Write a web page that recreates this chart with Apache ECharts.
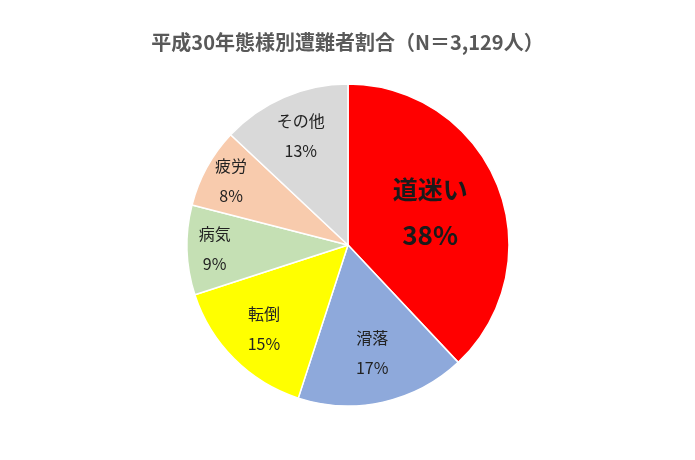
<!DOCTYPE html>
<html><head><meta charset="utf-8">
<script src="https://cdn.jsdelivr.net/npm/echarts@6/dist/echarts.min.js"></script>
<style>html,body{margin:0;padding:0;background:#fff}#c{width:695px;height:460px}</style>
</head><body><div id="c"></div>
<script>
const titleText = '平成30年態様別遭難者割合（N＝3,129人）';
const categories = ['道迷い', '滑落', '転倒', '病気', '疲労', 'その他'];
const values = [38, 17, 15, 9, 8, 13];
const colors = ['#FF0000', '#8EA9DB', '#FFFF00', '#C5E0B4', '#F8CBAD', '#D9D9D9'];
// label distance from centre as a fraction of radius (Excel best-fit look)
const labelRadiusFrac = [0.53, 0.67, 0.72, 0.81, 0.81, 0.72];

const R = 161;
const total = values.reduce((a, b) => a + b, 0);
let acc = 0;
const data = categories.map((name, i) => {
  const mid = (acc + values[i] / 2) / total * 2 * Math.PI;
  acc += values[i];
  const d = (labelRadiusFrac[i] - 0.5) * R;
  const big = i === 0;
  return {
    name: name,
    value: values[i],
    itemStyle: { color: colors[i] },
    label: {
      offset: [d * Math.sin(mid), -d * Math.cos(mid)],
      formatter: big ? '{bn|{b}}\n{bp|{d}%}' : '{n|{b}}\n{p|{d}%}'
    }
  };
});

const chart = echarts.init(document.getElementById('c'));
chart.setOption({
  backgroundColor: '#ffffff',
  animation: false,
  title: {
    text: titleText,
    left: 'center',
    top: 27,
    textStyle: { fontFamily: 'Noto Sans CJK JP', fontSize: 20, fontWeight: 'bold', color: '#595959' }
  },
  series: [{
    type: 'pie',
    center: [348, 245],
    radius: [0, R],
    startAngle: 90,
    clockwise: true,
    avoidLabelOverlap: false,
    itemStyle: { borderColor: '#ffffff', borderWidth: 1.5 },
    label: {
      show: true,
      position: 'inside',
      fontFamily: 'Noto Sans CJK JP',
      color: '#262626',
      rich: {
        n: { fontFamily: 'Noto Sans CJK JP', fontSize: 16, color: '#222222', lineHeight: 30, align: 'center' },
        p: { fontFamily: 'Noto Sans CJK JP', fontSize: 16, color: '#222222', lineHeight: 30, align: 'center' },
        bn: { fontFamily: 'Noto Sans CJK JP', fontSize: 25, fontWeight: 'bold', color: '#1a1a1a', lineHeight: 46, align: 'center' },
        bp: { fontFamily: 'Noto Sans CJK JP', fontSize: 26, fontWeight: 'bold', color: '#1a1a1a', lineHeight: 46, align: 'center' }
      }
    },
    labelLine: { show: false },
    emphasis: { disabled: true },
    data: data
  }]
});
</script></body></html>
